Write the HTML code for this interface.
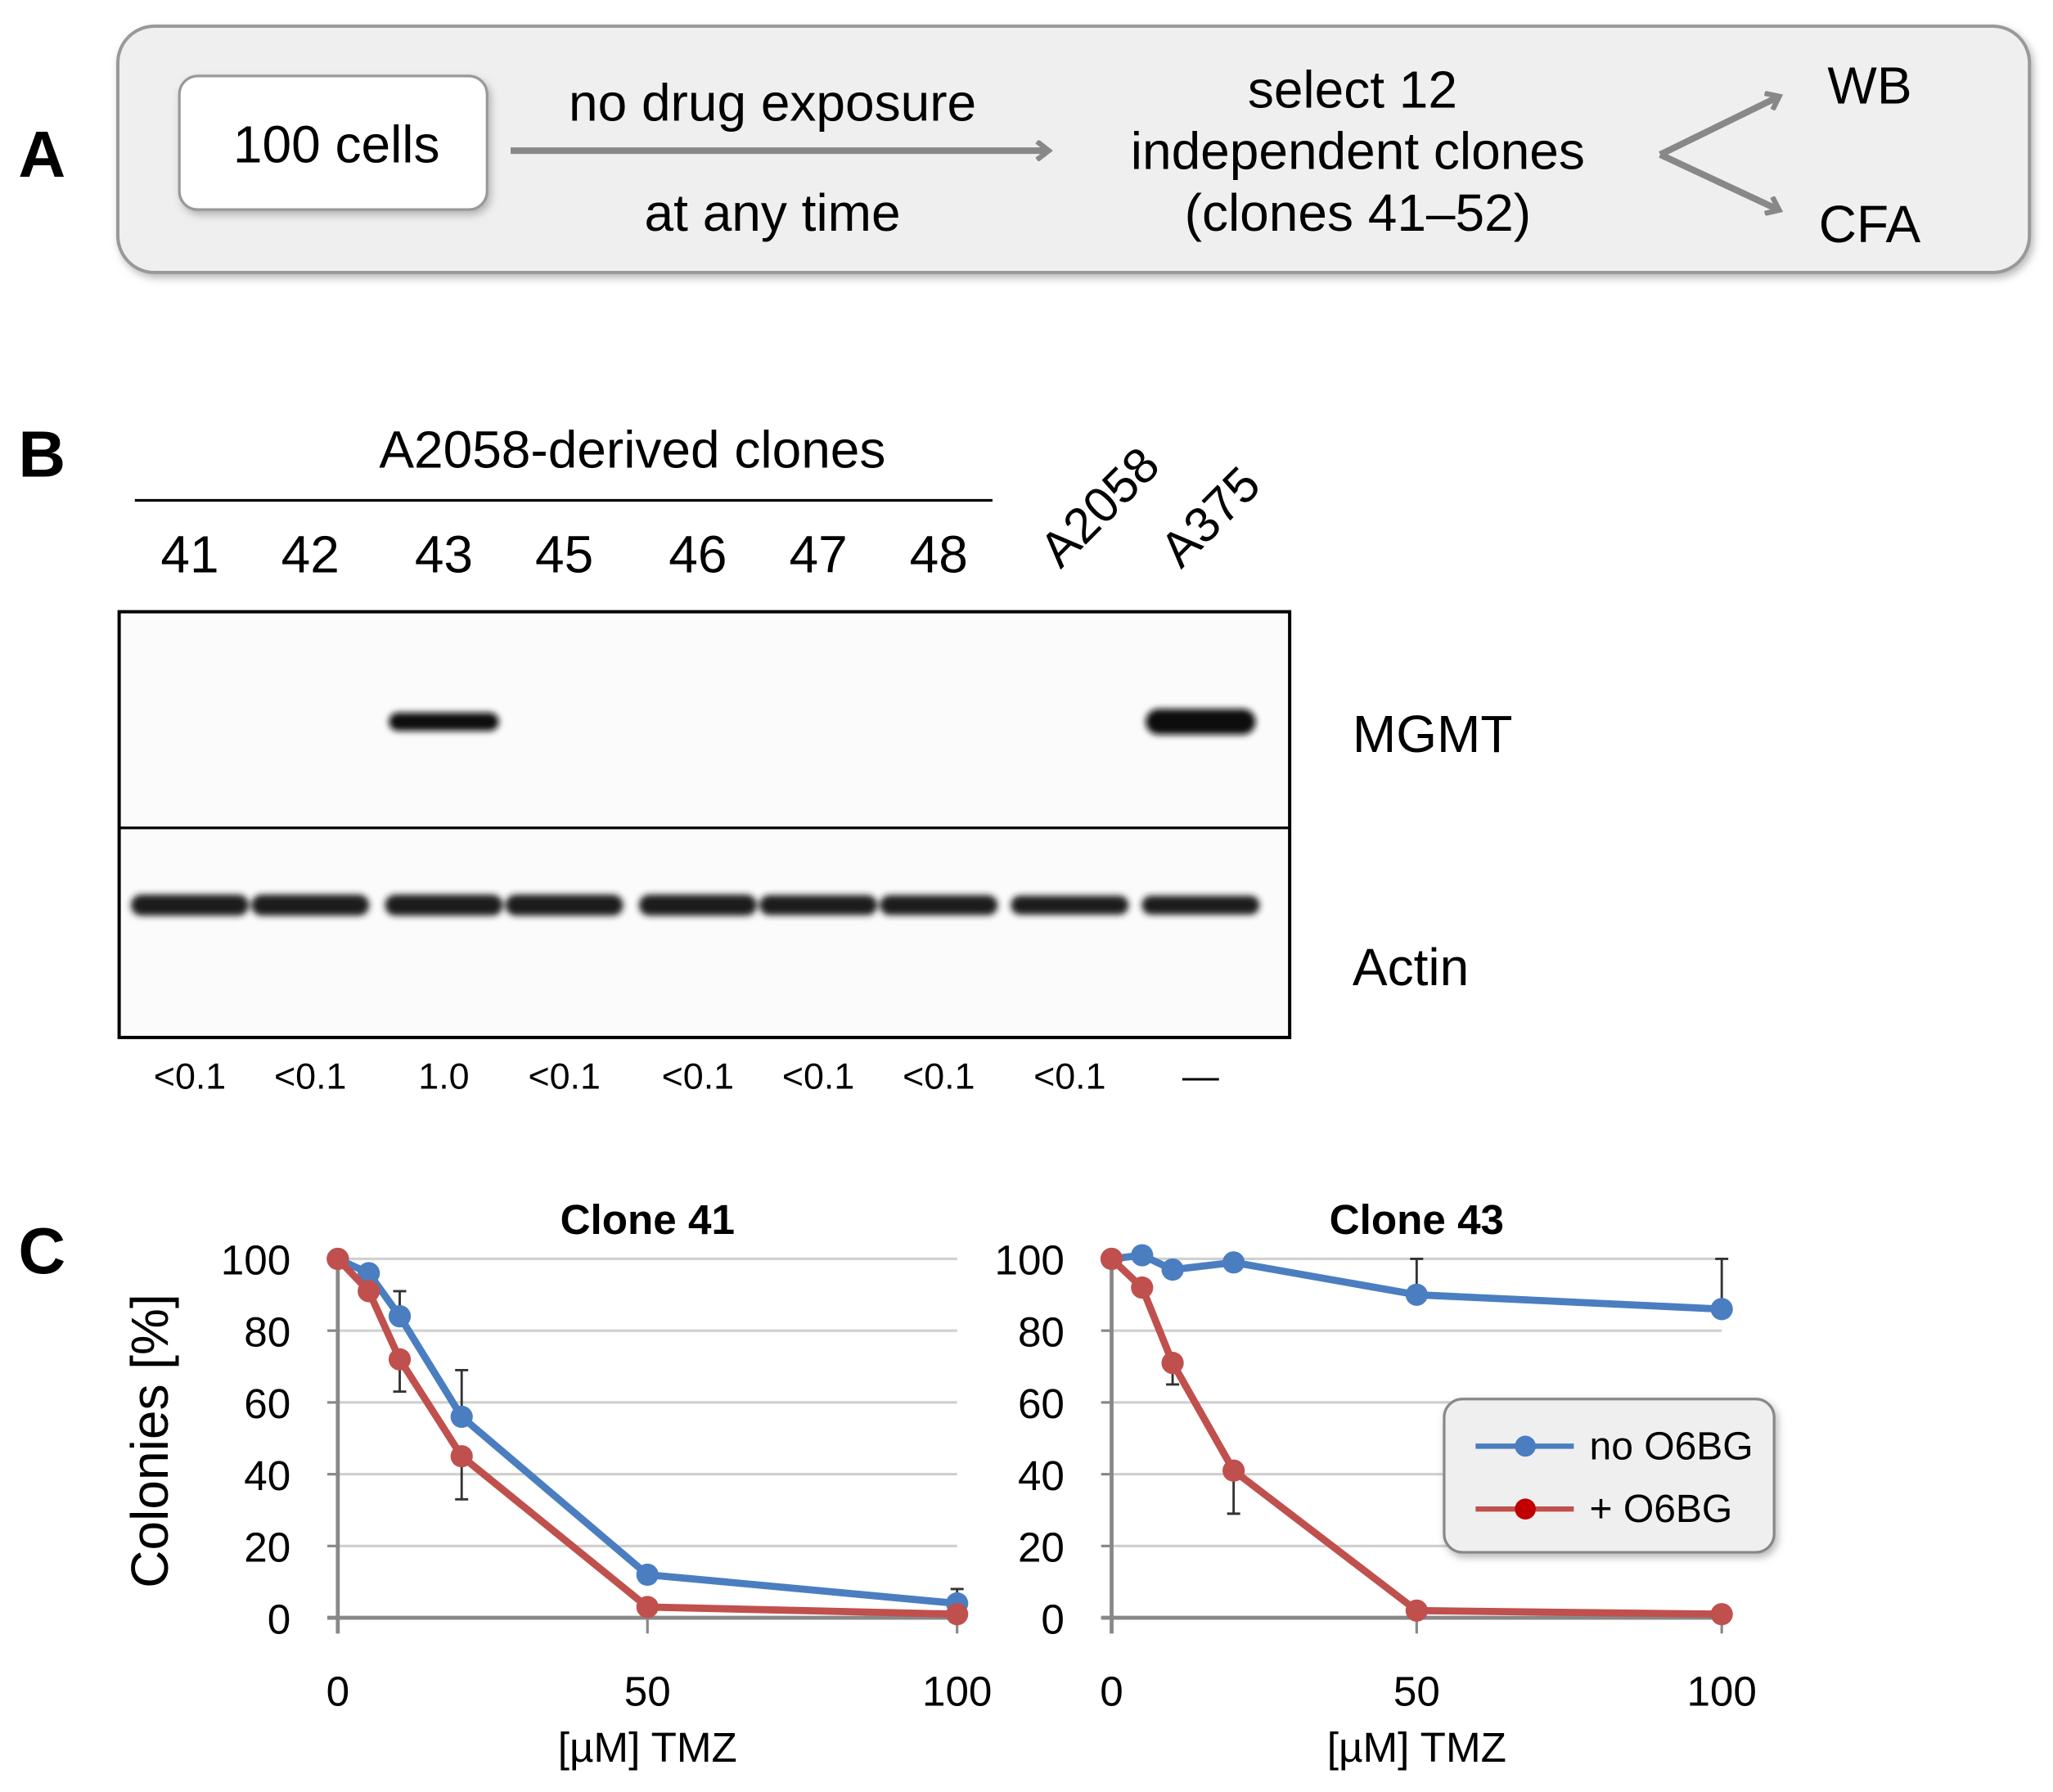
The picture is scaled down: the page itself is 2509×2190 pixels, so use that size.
<!DOCTYPE html>
<html><head><meta charset="utf-8"><style>
html,body{margin:0;padding:0;background:#fff}
svg{display:block}
text{font-family:"Liberation Sans",sans-serif}
</style></head><body>
<svg id="fig" width="2509" height="2190" viewBox="0 0 1568 1368" preserveAspectRatio="none" xmlns="http://www.w3.org/2000/svg">
<defs>
<filter id="blur" x="-20%" y="-50%" width="140%" height="200%"><feGaussianBlur stdDeviation="2.5"/></filter>
<filter id="shadow" x="-5%" y="-10%" width="115%" height="130%"><feDropShadow dx="2" dy="3" stdDeviation="3" flood-color="#888" flood-opacity="0.6"/></filter>
<marker id="ah" markerWidth="16" markerHeight="16" refX="9" refY="8" orient="auto" markerUnits="userSpaceOnUse"><path d="M1,1 L10,8 L1,15" fill="none" stroke="#888" stroke-width="4"/></marker>
</defs>

<!-- Panel A -->
<g>
<text x="14" y="135" font-size="50" font-weight="bold">A</text>
<rect x="90" y="20" width="1460" height="188" rx="28" fill="#efefef" stroke="#999" stroke-width="2.5" filter="url(#shadow)"/>
<rect x="137" y="58" width="235" height="102" rx="14" fill="#fff" stroke="#999" stroke-width="2" filter="url(#shadow)"/>
<text x="257" y="124" font-size="40" text-anchor="middle">100 cells</text>
<line x1="390" y1="115" x2="800" y2="115" stroke="#888" stroke-width="5" marker-end="url(#ah)"/>
<text x="590" y="92" font-size="40" text-anchor="middle">no drug exposure</text>
<text x="590" y="176" font-size="40" text-anchor="middle">at any time</text>
<text x="1033" y="82" font-size="40" text-anchor="middle">select 12</text>
<text x="1037" y="129" font-size="40" text-anchor="middle">independent clones</text>
<text x="1037" y="176" font-size="40" text-anchor="middle">(clones 41–52)</text>
<line x1="1268" y1="118" x2="1358" y2="74" stroke="#888" stroke-width="5" marker-end="url(#ah)"/>
<line x1="1268" y1="118" x2="1358" y2="160" stroke="#888" stroke-width="5" marker-end="url(#ah)"/>
<text x="1428" y="79" font-size="40" text-anchor="middle">WB</text>
<text x="1428" y="185" font-size="40" text-anchor="middle">CFA</text>
</g>

<!-- Panel B -->
<g>
<text x="14" y="364" font-size="50" font-weight="bold">B</text>
<text x="483" y="357" font-size="40" text-anchor="middle">A2058-derived clones</text>
<line x1="103" y1="382" x2="758" y2="382" stroke="#000" stroke-width="2"/>
<g id="lanes"></g>
<text x="0" y="0" font-size="38" transform="translate(810,435) rotate(-45)">A2058</text>
<text x="0" y="0" font-size="38" transform="translate(902,435) rotate(-45)">A375</text>
<rect x="91" y="467" width="894" height="325" fill="#fbfbfb" stroke="#000" stroke-width="2.5"/>
<line x1="91" y1="632" x2="985" y2="632" stroke="#000" stroke-width="2"/>
<g id="bands" filter="url(#blur)"></g>
<text x="1033" y="574" font-size="40">MGMT</text>
<text x="1033" y="752" font-size="40">Actin</text>
<g id="quant"></g>
</g>

<!-- Panel C -->
<g>
<text x="14" y="972" font-size="50" font-weight="bold">C</text>
<text x="0" y="0" font-size="40" text-anchor="middle" transform="translate(128,1100) rotate(-90)">Colonies [%]</text>
<g id="chart1"></g>
<g id="chart2"></g>
<g>
<rect x="1103" y="1068" width="252" height="117" rx="14" fill="#efefef" stroke="#888" stroke-width="2" filter="url(#shadow)"/>
<line x1="1127" y1="1104" x2="1202" y2="1104" stroke="#4a7ec0" stroke-width="4"/>
<circle cx="1165" cy="1104" r="8" fill="#4a7ec0"/>
<text x="1214" y="1114" font-size="30">no O6BG</text>
<line x1="1127" y1="1152" x2="1202" y2="1152" stroke="#c0504d" stroke-width="4"/>
<circle cx="1165" cy="1152" r="8" fill="#c00000"/>
<text x="1214" y="1162" font-size="30">+ O6BG</text>
</g>
</g>
</svg>
<script>
const NS="http://www.w3.org/2000/svg";
function mk(tag,attrs,parent){const e=document.createElementNS(NS,tag);for(const k in attrs)e.setAttribute(k,attrs[k]);parent.appendChild(e);return e;}

// Blot data
const laneNames=["41","42","43","45","46","47","48"];
const quantLabels=["<0.1","<0.1","1.0","<0.1","<0.1","<0.1","<0.1","<0.1","—"];
const mgmtIntensity=[0,0,1,0,0,0,0,0,1.4];
const actinIntensity=[1,1,1,1,1,0.95,0.95,0.9,0.9];
const lanePos=[145,237,339,431,533,625,717,817,917];

const lanes=document.getElementById('lanes');
laneNames.forEach((n,i)=>{
  const t=mk('text',{x:lanePos[i],y:437,'font-size':40,'text-anchor':'middle'},lanes);
  
  
  t.textContent=n;
});
const bands=document.getElementById('bands');
lanePos.forEach((x,i)=>{
  if(mgmtIntensity[i]>0){
    const h=14*mgmtIntensity[i];
    const r=mk('rect',{x:x-42,y:551-h/2,width:84,height:h,rx:h/2,fill:'#111'},bands);
    
    
  }
  const h=16*actinIntensity[i];
  const a=mk('rect',{x:x-45,y:691-h/2,width:90,height:h,rx:h/2,fill:'#1a1a1a'},bands);
  
  
});
const quant=document.getElementById('quant');
quantLabels.forEach((q,i)=>{
  const t=mk('text',{x:lanePos[i],y:831,'font-size':28,'text-anchor':'middle'},quant);
  
  
  t.textContent=q;
});

// Chart data
const doses=[0,5,10,20,50,100];
const yTicks=[0,20,40,60,80,100];
const xTicks=[0,50,100];
const c41Blue=[100,96,84,56,12,4];
const c41BlueErrHi=[100,96,91,69,12,8];
const c41Red=[100,91,72,45,3,1];
const c41RedErrLo=[100,91,63,33,3,1];
const c43Blue=[100,101,97,99,90,86];
const c43BlueErrHi=[100,101,97,99,100,100];
const c43Red=[100,92,71,41,2,1];
const c43RedErrLo=[100,92,65,29,2,1];

function chart(g,name,title,x0,x1,blue,blueErr,red,redErr){
  const y0=1235,y1=961;
  const X=v=>x0+(x1-x0)*v/100, Y=v=>y0-(y0-y1)*v/100;
  const tt=mk('text',{x:(x0+x1)/2,y:942,'font-size':32,'font-weight':'bold','text-anchor':'middle'},g);
  
  
  tt.textContent=title;
  yTicks.forEach(v=>{
    if(v>0){const l=mk('line',{x1:x0,y1:Y(v),x2:x1,y2:Y(v),stroke:'#d0d0d0','stroke-width':2},g);
    
    }
    mk('line',{x1:x0-8,y1:Y(v),x2:x0,y2:Y(v),stroke:'#888','stroke-width':2},g);
    const t=mk('text',{x:x0-36,y:Y(v)+12,'font-size':32,'text-anchor':'end'},g);
    
    
    t.textContent=v;
  });
  mk('line',{x1:x0,y1:Y(100),x2:x0,y2:y0+12,stroke:'#888','stroke-width':3},g);
  mk('line',{x1:x0-8,y1:y0,x2:x1,y2:y0,stroke:'#888','stroke-width':3},g);
  xTicks.forEach(v=>{
    mk('line',{x1:X(v),y1:y0,x2:X(v),y2:y0+12,stroke:'#888','stroke-width':2},g);
    const t=mk('text',{x:X(v),y:1302,'font-size':32,'text-anchor':'middle'},g);
    
    
    t.textContent=v;
  });
  const xt=mk('text',{x:(x0+x1)/2,y:1345,'font-size':32,'text-anchor':'middle'},g);
  
  
  xt.textContent='[µM] TMZ';
  function err(vals,ends,col){
    doses.forEach((d,i)=>{ if(ends[i]!==vals[i]){
      const e=mk('g',{stroke:col,'stroke-width':1.8},g);
      
      
      mk('line',{x1:X(d),y1:Y(vals[i]),x2:X(d),y2:Y(ends[i])},e);
      mk('line',{x1:X(d)-5,y1:Y(ends[i]),x2:X(d)+5,y2:Y(ends[i])},e);
    }});
  }
  function series(vals,col,sname){
    const p=mk('polyline',{points:doses.map((d,i)=>X(d)+','+Y(vals[i])).join(' '),fill:'none',stroke:col,'stroke-width':5.5,'stroke-linejoin':'round'},g);
    
    
    doses.forEach((d,i)=>{
      const c=mk('circle',{cx:X(d),cy:Y(vals[i]),r:8.5,fill:col},g);
      
      
    });
  }
  err(blue,blueErr,'#333');
  err(red,redErr,'#333');
  series(blue,'#4a7ec0','no-o6bg');
  series(red,'#c0504d','o6bg');
}
chart(document.getElementById('chart1'),'clone-41','Clone 41',258,731,c41Blue,c41BlueErrHi,c41Red,c41RedErrLo);
chart(document.getElementById('chart2'),'clone-43','Clone 43',849,1315,c43Blue,c43BlueErrHi,c43Red,c43RedErrLo);
</script>
</body></html>
